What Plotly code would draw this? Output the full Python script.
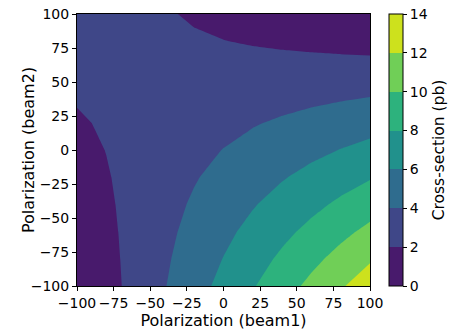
import plotly.graph_objects as go

# polarization grid (percent), step 20
pol_beam1 = [-100, -80, -60, -40, -20, 0, 20, 40, 60, 80, 100]
pol_beam2 = [-100, -80, -60, -40, -20, 0, 20, 40, 60, 80, 100]

# cross-section (pb), rows = beam2, columns = beam1
xsec = [
    [0.0, 1.31, 2.62, 3.93, 5.24, 6.55, 7.86, 9.17, 10.48, 11.79, 13.1],
    [0.305, 1.454, 2.602, 3.751, 4.899, 6.048, 7.196, 8.345, 9.493, 10.642, 11.79],
    [0.61, 1.597, 2.584, 3.571, 4.558, 5.545, 6.532, 7.519, 8.506, 9.493, 10.48],
    [0.915, 1.741, 2.566, 3.392, 4.217, 5.043, 5.868, 6.694, 7.519, 8.345, 9.17],
    [1.22, 1.884, 2.548, 3.212, 3.876, 4.54, 5.204, 5.868, 6.532, 7.196, 7.86],
    [1.525, 2.028, 2.53, 3.033, 3.535, 4.038, 4.54, 5.043, 5.545, 6.048, 6.55],
    [1.83, 2.171, 2.512, 2.853, 3.194, 3.535, 3.876, 4.217, 4.558, 4.899, 5.24],
    [2.135, 2.315, 2.494, 2.674, 2.853, 3.033, 3.212, 3.392, 3.571, 3.751, 3.93],
    [2.44, 2.458, 2.476, 2.494, 2.512, 2.53, 2.548, 2.566, 2.584, 2.602, 2.62],
    [2.745, 2.602, 2.458, 2.315, 2.171, 2.028, 1.884, 1.741, 1.597, 1.454, 1.31],
    [3.05, 2.745, 2.44, 2.135, 1.83, 1.525, 1.22, 0.915, 0.61, 0.305, 0.0],
]

levels = [0, 2, 4, 6, 8, 10, 12, 14]
tick_vals = [-100, -75, -50, -25, 0, 25, 50, 75, 100]

# one viridis colour per band (band midpoints)
band_colors = ["#481a6c", "#3f4788", "#2f6c8e", "#21918c",
               "#2db27d", "#70cf57", "#cde11d"]

FONT = "DejaVu Sans"
BLACK = "black"

# colorscale for the contour fills: plotly samples band midpoints,
# so the steps only need to sit between them
fill_edges = [0, 0.1652, 0.2991, 0.4330, 0.5670, 0.7009, 0.8348, 1]
fill_scale = []
for i, c in enumerate(band_colors):
    fill_scale += [[fill_edges[i], c], [fill_edges[i + 1], c]]

# exact stepped colorscale for the colorbar (0..14)
bar_scale = []
for i, c in enumerate(band_colors):
    bar_scale += [[levels[i] / levels[-1], c], [levels[i + 1] / levels[-1], c]]

fig = go.Figure()
fig.add_trace(go.Contour(
    x=pol_beam1, y=pol_beam2, z=xsec,
    colorscale=fill_scale, showscale=False,
    contours=dict(start=levels[0], end=levels[-1], size=2,
                  coloring="fill", showlines=False),
    line=dict(width=0, smoothing=0),
    hoverinfo="x+y+z",
))

# colour bar only
fig.add_trace(go.Scatter(
    x=[None], y=[None], mode="markers", showlegend=False, hoverinfo="skip",
    marker=dict(
        color=[levels[0]], cmin=levels[0], cmax=levels[-1],
        colorscale=bar_scale, showscale=True,
        colorbar=dict(
            title=dict(text="Cross-section (pb)", side="right",
                       font=dict(size=15.5, color=BLACK, family=FONT)),
            tickvals=levels, ticks="outside", ticklen=4, tickwidth=1,
            tickcolor=BLACK, tickfont=dict(size=14, color=BLACK, family=FONT),
            ticklabeloverflow="allow",
            thickness=14, thicknessmode="pixels", len=1, lenmode="fraction",
            x=1.0648, xanchor="left", y=0.5, yanchor="middle",
            xpad=0, ypad=0, outlinecolor=BLACK, outlinewidth=1,
        ),
    ),
))

axis_common = dict(
    range=[-100, 100], tickvals=tick_vals, ticks="outside", ticklen=4,
    tickwidth=1, tickcolor=BLACK, showline=True, mirror=True,
    linecolor=BLACK, linewidth=1, showgrid=False, zeroline=False,
    automargin=False, ticklabeloverflow="allow",
    tickfont=dict(size=14, color=BLACK, family=FONT),
)

# the page body adds 8px on the left/top, margins account for it
fig.update_layout(
    width=458, height=336,
    paper_bgcolor="white", plot_bgcolor="white",
    margin=dict(l=69, r=96, t=6, b=58),
    font=dict(family=FONT, size=14, color=BLACK),
    xaxis=dict(axis_common, title=dict(text="Polarization (beam1)", standoff=2,
                                       font=dict(size=16, color=BLACK))),
    yaxis=dict(axis_common),
    annotations=[dict(
        text="Polarization (beam2)", textangle=-90, showarrow=False,
        xref="paper", yref="paper", x=0, y=0.5, xanchor="center",
        yanchor="middle", xshift=-49,
        font=dict(size=16, color=BLACK, family=FONT),
    )],
)

fig.write_html("out.html")
